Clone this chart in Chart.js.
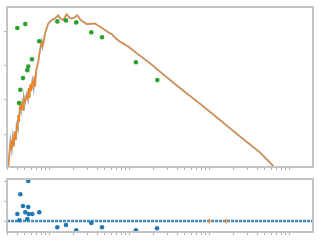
<!DOCTYPE html>
<html>
<head>
<meta charset="utf-8">
<script src="https://cdn.jsdelivr.net/npm/chart.js@4.4.0/dist/chart.umd.min.js"></script>
<style>
  body { margin: 0; background: #fff; }
  #wrap { position: relative; width: 320px; height: 240px; }
  canvas { position: absolute; left: 0; }
  #top { top: 0; }
  #bottom { top: 170px; }
</style>
</head>
<body>
<div id="wrap">
  <canvas id="top" width="320" height="176"></canvas>
  <canvas id="bottom" width="320" height="70"></canvas>
</div>
<script>
// spectrum (orange over grey), log x, dB y
var specX = [0.31, 0.318, 0.33, 0.342, 0.353, 0.363, 0.373, 0.385, 0.395, 0.408, 0.413, 0.42, 0.434,
    0.445, 0.461, 0.474, 0.486, 0.5, 0.526, 0.545, 0.556, 0.57, 0.582, 0.595, 0.62, 0.64, 0.658, 0.67,
    0.69, 0.712, 0.74, 0.772, 0.811, 0.83, 0.849, 0.891, 0.936, 0.98, 1.081, 1.189, 1.307, 1.373,
    1.509, 1.664, 1.83, 2.012, 2.258, 2.49, 2.96, 3.76, 4.34, 5.79, 6.2, 6.49, 7.72, 9.8, 12.5, 18.3,
    29.6, 47.7, 77.2, 137, 244, 434, 637];
var specY = [-39.8, -36.4, -32.1, -34.5, -31.1, -33.6, -29.3, -31.7, -27.4, -28.4, -24.5, -26.4, -21.9,
    -22.9, -20.9, -22.9, -19.5, -20.9, -18.5, -19.9, -16.6, -19.5, -15.6, -17.5, -14.6, -16.6, -13.2,
    -16.1, -11.7, -10.3, -8.4, -5.5, -3.1, -4.5, -3.6, -0.7, 0.8, 2.2, 3.2, 3.7, 4.6, 3.7, 3.2, 4.9,
    3.7, 3.7, 4.6, 3.2, 2.0, 2.2, 1.25, -0.67, -1.0, -1.65, -3.1, -4.55, -6.46, -9.36, -13.48, -17.39,
    -21.16, -25.94, -30.72, -35.36, -39.33];

// measured points
var dataX = [0.402, 0.422, 0.438, 0.473, 0.505, 0.536, 0.551, 0.613, 0.756, 1.27, 1.63, 2.19, 3.38, 4.6, 12.2, 22.6];
var dataY = [0.87, -20.96, -17.1, -13.71, 2.03, -11.39, -10.35, -8.2, -2.99, 2.81, 3.1, 2.52, -0.38, -1.83, -9.07, -14.29];

// residuals
var residX = [0.402, 0.425, 0.438, 0.473, 0.505, 0.536, 0.551, 0.551, 0.557, 0.618, 0.756, 1.27, 1.63, 2.19, 3.38, 4.6, 12.2, 22.4];
var residY = [0.35, 0.035, 1.335, 0.75, 0.435, 0.1, 2.0, 0.7, 0.35, 0.35, 0.435, -0.315, -0.2, -0.465, -0.1, -0.315, -0.465, -0.365];
var refX = [0.2985, 1995];
var refY = [0, 0];
var markX = [101, 163];
var markY = [0, 0];

var decades = [0.1, 1, 10, 100, 1000];
var mults = [1, 2, 3, 4, 5, 6, 7, 8, 9];
var topTicks = [-30, -20, -10, 0];
var bottomTicks = [0, 1, 2];

var xMin = 0.2985, xMax = 1995;
var xTicks = [];
decades.forEach(function (d) {
    mults.forEach(function (m) {
        var v = d * m;
        if (v >= xMin && v <= xMax) xTicks.push(v);
    });
});

function pts(xs, ys) {
    return xs.map(function (x, i) { return { x: x, y: ys[i] }; });
}

var frame = {
    id: 'frame',
    afterDraw: function (chart) {
        var a = chart.chartArea, c = chart.ctx;
        c.save();
        c.strokeStyle = '#c4c4c4';
        c.lineWidth = 2;
        c.strokeRect(a.left, a.top, a.right - a.left, a.bottom - a.top);
        c.restore();
    }
};

function xScale(h) {
    return {
        type: 'logarithmic', min: xMin, max: xMax,
        afterBuildTicks: function (s) { s.ticks = xTicks.map(function (v) { return { value: v }; }); },
        afterFit: function (s) { s.height = h; },
        ticks: { display: false },
        border: { display: false },
        grid: { drawOnChartArea: false, tickLength: 3, tickColor: '#b0b0b0', tickWidth: 1 }
    };
}

function yScale(min, max, list) {
    return {
        min: min, max: max,
        afterBuildTicks: function (s) { s.ticks = list.map(function (v) { return { value: v }; }); },
        afterFit: function (s) { s.width = 7; },
        ticks: { display: false },
        border: { display: false },
        grid: { drawOnChartArea: false, tickLength: 3, tickColor: '#b0b0b0', tickWidth: 1 }
    };
}

var common = {
    responsive: false,
    animation: false,
    devicePixelRatio: 1,
    plugins: { legend: { display: false }, tooltip: { enabled: false } }
};

new Chart(document.getElementById('top').getContext('2d'), {
    type: 'line',
    data: {
        datasets: [{
            data: pts(dataX, dataY),
            showLine: false,
            pointRadius: 2.3,
            pointBackgroundColor: '#2ca02c',
            pointBorderWidth: 0
        }, {
            data: pts(specX, specY),
            borderColor: '#ff7f0e',
            borderWidth: 1,
            pointRadius: 0
        }, {
            data: pts(specX, specY),
            borderColor: '#a8a8a8',
            borderWidth: 2,
            pointRadius: 0
        }]
    },
    options: Object.assign({}, common, {
        layout: { padding: { top: 7, right: 7, left: 0, bottom: 0 } },
        scales: { x: xScale(9), y: yScale(-39.6, 7, topTicks) }
    }),
    plugins: [frame]
});

new Chart(document.getElementById('bottom').getContext('2d'), {
    type: 'line',
    data: {
        datasets: [{
            data: pts(markX, markY),
            showLine: false,
            pointStyle: 'cross',
            pointRadius: 2.5,
            pointBorderColor: '#e08a3a',
            pointBorderWidth: 1.2
        }, {
            data: pts(residX, residY),
            showLine: false,
            pointRadius: 2.3,
            pointBackgroundColor: '#1f77b4',
            pointBorderWidth: 0
        }, {
            data: pts(refX, refY),
            borderColor: 'rgba(31,119,180,0.85)',
            borderWidth: 2.5,
            borderDash: [3, 1],
            pointRadius: 0
        }]
    },
    options: Object.assign({}, common, {
        layout: { padding: { top: 9, right: 7, left: 0, bottom: 0 } },
        scales: { x: xScale(8), y: yScale(-0.55, 2.1, bottomTicks) }
    }),
    plugins: [frame]
});
</script>
</body>
</html>
